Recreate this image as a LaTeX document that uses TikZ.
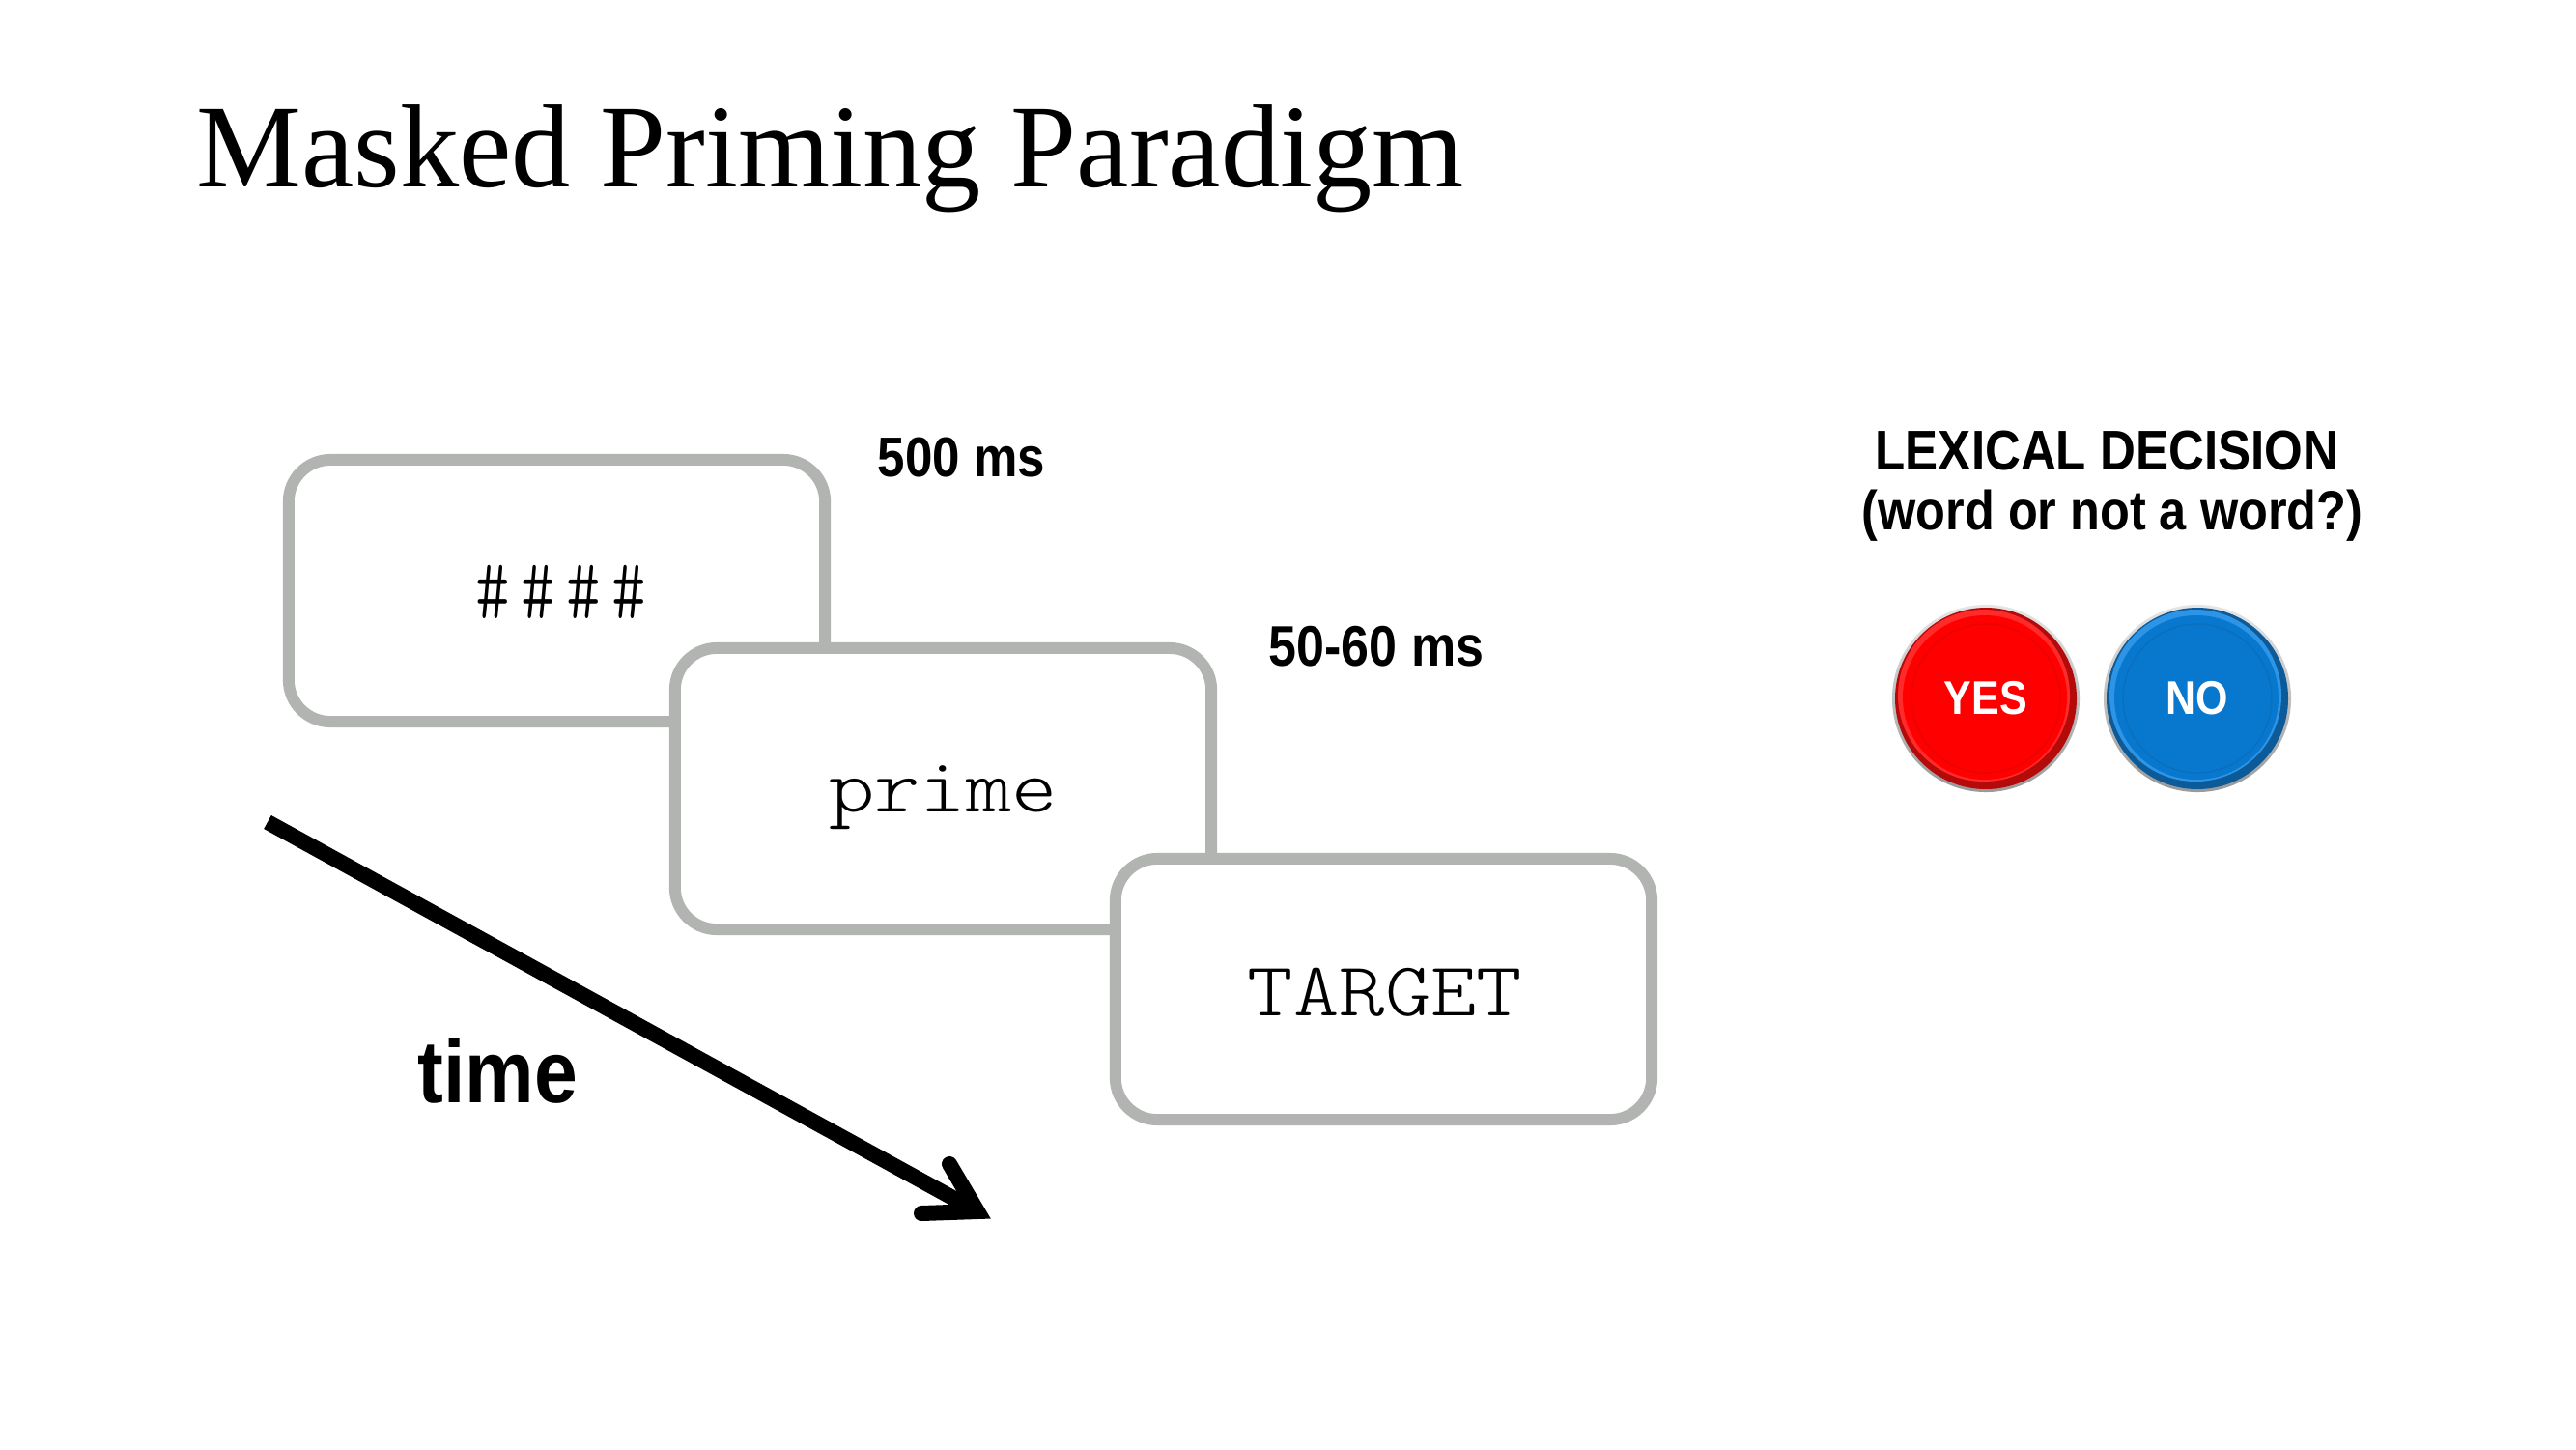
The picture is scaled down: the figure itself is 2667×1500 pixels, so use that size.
\documentclass[tikz,border=0pt]{standalone}
\usetikzlibrary{calc}
\usepackage{fontspec}
\setmainfont{Liberation Serif}
\newfontfamily\monof[FakeStretch=1.14]{Latin Modern Mono Light}
\newfontfamily\hashf[FakeStretch=0.75,LetterSpace=12.6]{Latin Modern Mono Light}
\newfontfamily\gothf[FakeStretch=0.88]{Liberation Sans Bold}
\definecolor{boxgray}{HTML}{B2B4B2}
\definecolor{yescol}{HTML}{FF0000}
\definecolor{yesdark}{HTML}{B50A0A}
\definecolor{yeslight}{HTML}{FF2A2A}
\definecolor{nocol}{HTML}{0778CE}
\definecolor{nodark}{HTML}{0D5A98}
\definecolor{nolight}{HTML}{2E95E6}
\tikzset{
  px/.style={x=0.01cm,y=-0.01cm},
  slide/.style={draw=boxgray,line width=3.4pt,fill=white,rounded corners=12.3pt,minimum width=5.55cm,inner sep=0pt},
  slidetext/.style={inner sep=0pt,anchor=base,font=\monof\fontsize{22.5pt}{26pt}\selectfont},
  lab/.style={inner sep=0pt,anchor=base west,font=\gothf\fontsize{16.5pt}{19pt}\selectfont},
  btntext/.style={inner sep=0pt,text=white,font=\gothf\fontsize{13.9pt}{16pt}\selectfont},
  arrowline/.style={black,line width=4.55pt}
}
% name, centre, face, dark, light, label
\newcommand{\pushbutton}[6]{%
  \node[circle,minimum size=1.94cm,inner sep=0pt,shade,shading angle=135,top color=gray!20,bottom color=gray!80] (#1) at (#2) {};
  \fill[#4] (#1.center) circle (94);
  \fill[#5] ($(#1.center)+(-2,-3)$) circle (89);
  \fill[#3] ($(#1.center)+(-1,-1)$) circle (85);
  \draw[#3!70!#4,line width=0.4pt] (#1.center) circle (77);
  \node[btntext] at (#1.center) {#6};
}
\begin{document}
\begin{tikzpicture}[px]
\useasboundingbox (0,0) rectangle (2667,1500);
\fill[white] (0,0) rectangle (2667,1500);
\node[inner sep=0pt,anchor=base west,font=\fontsize{34.8pt}{40pt}\selectfont] (title) at (203,193) {Masked Priming Paradigm};
\node[slide,minimum height=2.71cm] (mask) at (576.5,611.5) {};
\node[inner sep=0pt,anchor=base,font=\hashf\fontsize{25.7pt}{30pt}\selectfont] (masktext) at (581,640) {\#\#\#\#};
\node[slide,minimum height=2.91cm] (prime) at (976.5,816.5) {};
\node[slidetext] (primetext) at (976.5,840) {prime};
\node[slide,minimum height=2.70cm] (target) at (1432.5,1024) {};
\node[slidetext] (targettext) at (1434,1051) {TARGET};
\node[lab] (t500) at (908,493.5) {500 ms};
\node[lab,font=\gothf\fontsize{16.8pt}{19pt}\selectfont] (t50) at (1313,689) {50-60 ms};
\node[inner sep=0pt,anchor=base west,font=\gothf\fontsize{26pt}{30pt}\selectfont] (time) at (432,1141) {time};
\node[lab] (lex) at (1941,486.5) {LEXICAL DECISION};
\node[lab,font=\gothf\fontsize{16.3pt}{19pt}\selectfont] (q) at (1927,548) {(word or not a word?)};
\coordinate (astart) at (277,851);
\coordinate (apex) at (1012,1254);
\coordinate (barba) at (983,1205);
\coordinate (barbb) at (954,1256);
\draw[arrowline] (astart) -- (apex);
\draw[arrowline,line cap=round,line join=miter,miter limit=10] (barba) -- (apex) -- (barbb);
\pushbutton{yes}{2056,723}{yescol}{yesdark}{yeslight}{YES}
\pushbutton{no}{2275,723}{nocol}{nodark}{nolight}{NO}
\end{tikzpicture}
\end{document}
